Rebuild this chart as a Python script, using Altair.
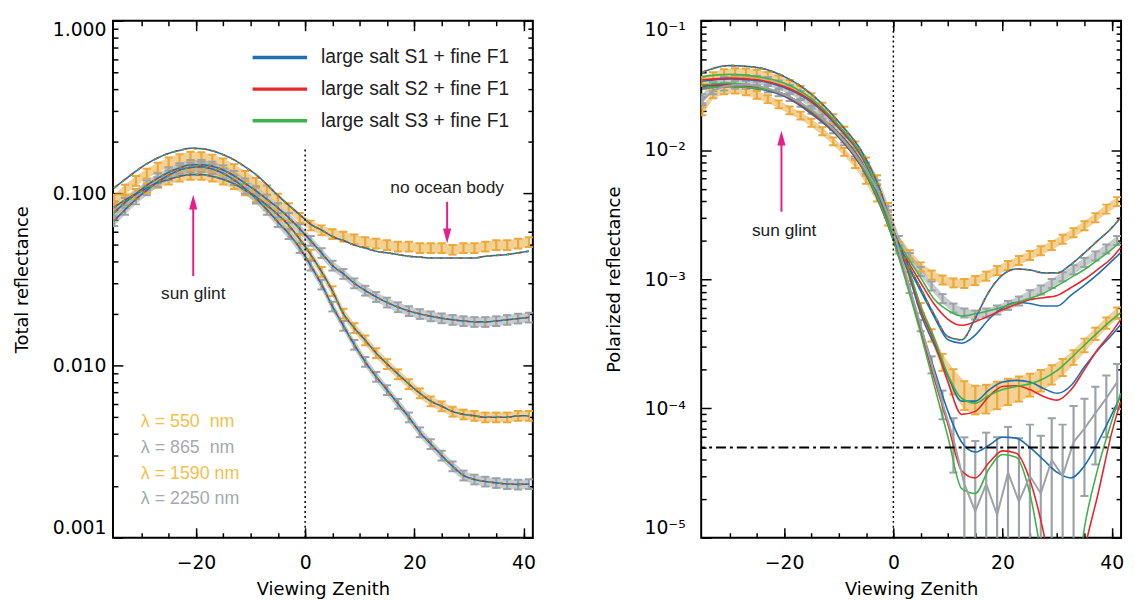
import altair as alt
import pandas as pd

# ---------------- categories / labels ----------------
MODELS = ["large salt S1 + fine F1", "large salt S2 + fine F1", "large salt S3 + fine F1"]
DASH_KEYS = ["d1", "d2", "d3"]
WAVELENGTHS = ["550", "865", "1590", "2250"]
WL_TEXT = ["λ = 550\u00a0 nm", "λ = 865\u00a0 nm", "λ = 1590 nm", "λ = 2250 nm"]

# ---------------- x grids ----------------
XO = [-35, -33, -31, -29, -27, -25, -23, -21, -19, -17, -15, -13, -11, -9, -7, -5, -3, -1,
      1, 3, 5, 7, 9, 11, 13, 15, 17, 19, 21, 23, 25, 27, 29, 31, 33, 35, 37, 39, 41]
XM = [-35, -30, -25, -20, -15, -10, -5, -2.5, 0, 2.5, 5, 7.5, 10, 12.5, 15, 17.5, 20,
      22.5, 25, 27.5, 30, 32.5, 35, 37.5, 40, 41.6]

# ---------------- left panel: total reflectance ----------------
TOT_550 = [0.092, 0.105, 0.118, 0.130, 0.141, 0.151, 0.158, 0.163, 0.162, 0.157, 0.149, 0.138,
           0.126, 0.115, 0.104, 0.093, 0.082, 0.072,
           0.065, 0.061, 0.058, 0.056, 0.054, 0.052, 0.051, 0.050, 0.049, 0.049, 0.048, 0.048,
           0.048, 0.047, 0.048, 0.048, 0.049, 0.050, 0.050, 0.051, 0.052]
TOT_550_MODEL = [0.107, 0.120, 0.134, 0.148, 0.160, 0.170, 0.177, 0.182, 0.181, 0.176, 0.167,
                 0.156, 0.142, 0.128, 0.112, 0.097, 0.085, 0.075,
                 0.066, 0.061, 0.056, 0.053, 0.050, 0.048, 0.046, 0.045, 0.044, 0.043, 0.0425,
                 0.042, 0.042, 0.042, 0.042, 0.042, 0.043, 0.0435, 0.044, 0.045, 0.046]
TOT_865 = [0.077, 0.088, 0.099, 0.111, 0.122, 0.132, 0.140, 0.146, 0.146, 0.143, 0.136, 0.126,
           0.114, 0.103, 0.092, 0.082, 0.072, 0.062,
           0.053, 0.045, 0.038, 0.034, 0.030, 0.0272, 0.0250, 0.0232, 0.0218, 0.0207, 0.0199,
           0.0193, 0.0188, 0.0184, 0.0181, 0.0179, 0.0179, 0.0181, 0.0184, 0.0187, 0.0190]
TOT_1590 = [0.083, 0.091, 0.099, 0.107, 0.115, 0.120, 0.125, 0.128, 0.128, 0.125, 0.120, 0.113,
            0.104, 0.095, 0.085, 0.075, 0.065, 0.054,
            0.044, 0.035, 0.027, 0.020, 0.0165, 0.0140, 0.0118, 0.0102, 0.0089, 0.0078, 0.0069,
            0.0062, 0.0058, 0.0054, 0.0052, 0.0051, 0.0050, 0.0050, 0.0050, 0.0051, 0.0051]
TOT_2250 = [0.069, 0.080, 0.092, 0.104, 0.116, 0.127, 0.136, 0.141, 0.142, 0.138, 0.130, 0.119,
            0.106, 0.093, 0.080, 0.068, 0.058, 0.048,
            0.038, 0.0295, 0.022, 0.0170, 0.0132, 0.0105, 0.0086, 0.0072, 0.0060, 0.0050,
            0.0041, 0.0035, 0.0030, 0.0026, 0.0023, 0.00218, 0.00212, 0.00208, 0.00205,
            0.00204, 0.00205]
TOT_ERR = 0.065

# ---------------- right panel: polarized reflectance ----------------
POL_550 = [0.034, 0.037, 0.039, 0.0398, 0.0395, 0.0387, 0.0372, 0.0350, 0.0322, 0.0290, 0.0255,
           0.0215, 0.0175, 0.0140, 0.0108, 0.0081, 0.0059, 0.0036,
           0.0020, 0.00155, 0.00125, 0.00108, 0.00099, 0.00094, 0.00093, 0.00098, 0.00106,
           0.00117, 0.00128, 0.00140, 0.00153, 0.00167, 0.00183, 0.00205, 0.0023, 0.0026,
           0.0030, 0.0035, 0.0040]
POL_865 = [0.025, 0.031, 0.034, 0.0352, 0.0352, 0.0348, 0.0340, 0.0320, 0.0295, 0.0265, 0.0228,
           0.0190, 0.0155, 0.0124, 0.0097, 0.0074, 0.0054, 0.0034,
           0.0020, 0.00148, 0.00115, 0.00089, 0.00071, 0.00060, 0.00055, 0.00053, 0.00055,
           0.00058, 0.00063, 0.00068, 0.00076, 0.00083, 0.00093, 0.00105, 0.00119, 0.00135,
           0.00152, 0.00172, 0.0020]
POL_1590 = [0.020, 0.027, 0.029, 0.0294, 0.0285, 0.0268, 0.0248, 0.0226, 0.0203, 0.0185, 0.0163,
            0.0140, 0.0117, 0.0097, 0.0078, 0.0059, 0.0043, 0.0028,
            0.0018, 0.00105, 0.00060, 0.00037, 0.00023, 0.000165, 0.000130, 0.000120, 0.000122,
            0.000130, 0.000138, 0.000145, 0.000155, 0.000167, 0.000185, 0.00021, 0.00025,
            0.00031, 0.00038, 0.00046, 0.00055]
POL_2250 = [0.024, 0.029, 0.031, 0.032, 0.032, 0.0315, 0.030, 0.028, 0.0258, 0.0232, 0.0205,
            0.0175, 0.0145, 0.0117, 0.0092, 0.0070, 0.0050, 0.0032,
            0.0017, 0.00085, 0.00044, 0.00022, 0.000110, 0.000058, 0.000026, 0.000016, 0.000026,
            0.000015, 0.000032, 0.000019, 0.000030, 0.000022, 0.000040, 0.000030, 0.000055,
            0.000070, 0.000092, 0.000120, 0.000160]
POL_ERR_550 = 0.08
POL_ERR_865 = 0.08
POL_ERR_1590 = [0.07] * 18 + [0.08, 0.08, 0.09, 0.11, 0.15, 0.22, 0.25, 0.25, 0.25, 0.24, 0.23,
                              0.22, 0.20, 0.19, 0.17, 0.15, 0.13, 0.12, 0.11, 0.10, 0.10]
POL_ERR_2250 = [0.07] * 18 + [0.07, 0.08, 0.10, 0.15, 0.25, 0.45, 1.3, 2.5, 1.5, 3.0, 1.25,
                              2.1, 1.5, 1.8, 1.1, 1.5, 0.9, 0.7, 0.6, 0.5, 0.38]

POL_550_MODEL = [0.040, 0.045, 0.0435, 0.037, 0.027, 0.0165, 0.0085, 0.0050, 0.0024, 0.00135,
                 0.00085, 0.00053, 0.00036, 0.00034, 0.00050, 0.00080, 0.00108, 0.00120, 0.00118,
                 0.00112, 0.00112, 0.00130, 0.00160, 0.0020, 0.0025, 0.0030]
POL_865_S1 = [0.034, 0.0355, 0.0345, 0.0305, 0.0235, 0.0148, 0.0077, 0.0043, 0.0021, 0.0013,
              0.00081, 0.00051, 0.00034, 0.00032, 0.00037, 0.00049, 0.00060, 0.00066, 0.00065,
              0.00062, 0.00062, 0.00075, 0.00090, 0.00110, 0.00138, 0.00160]
POL_865_S2 = [0.035, 0.036, 0.035, 0.031, 0.024, 0.0150, 0.0078, 0.0044, 0.0022, 0.00142,
              0.00094, 0.00064, 0.00049, 0.00044, 0.00047, 0.00052, 0.00058, 0.00064, 0.000695,
              0.00072, 0.00075, 0.00086, 0.00100, 0.00120, 0.00146, 0.00175]
POL_865_S3 = [0.037, 0.0385, 0.037, 0.033, 0.025, 0.0155, 0.0080, 0.0045, 0.0023, 0.0015,
              0.00103, 0.00070, 0.000575, 0.00052, 0.00054, 0.00057, 0.00061, 0.00066, 0.00071,
              0.00078, 0.00089, 0.00103, 0.00119, 0.00142, 0.00170, 0.00195]
POL_1590_S1 = [0.031, 0.032, 0.030, 0.026, 0.019, 0.0125, 0.0064, 0.0038, 0.0021, 0.0012,
               0.00054, 0.00031, 0.000177, 0.000114, 0.000114, 0.000139, 0.000160, 0.000165,
               0.000160, 0.000143, 0.000131, 0.000150, 0.000210, 0.000285, 0.000370, 0.000445]
POL_1590_S2 = [0.0315, 0.0325, 0.0305, 0.0265, 0.0195, 0.0128, 0.0065, 0.0039, 0.00215,
               0.00125, 0.00058, 0.00033, 0.000160, 0.000090, 0.000095, 0.000124, 0.000148,
               0.000150, 0.000140, 0.000124, 0.000116, 0.000139, 0.000200, 0.000290, 0.000390,
               0.000485]
POL_1590_S3 = [0.032, 0.033, 0.031, 0.027, 0.020, 0.0130, 0.0066, 0.0039, 0.0022, 0.0013,
               0.00062, 0.00035, 0.000182, 0.000120, 0.000110, 0.000126, 0.000140, 0.000148,
               0.000155, 0.000170, 0.000197, 0.000245, 0.000310, 0.000390, 0.000485, 0.000550]
POL_2250_S1 = [0.030, 0.031, 0.030, 0.027, 0.020, 0.0135, 0.0070, 0.0040, 0.0020, 0.0010,
               0.00043, 0.00020, 0.000095, 0.000055, 0.000046, 0.000052, 0.000060, 0.000059,
               0.000050, 0.000040, 0.000032, 0.000029, 0.000036, 0.000055, 0.000090, 0.000124]
POL_2250_S2 = [0.030, 0.031, 0.030, 0.027, 0.020, 0.0134, 0.0069, 0.0039, 0.0020, 0.00095,
               0.00040, 0.00017, 0.000075, 0.000033, 0.000029, 0.000038, 0.000047, 0.000045,
               0.000028, 0.000011, 0.000003, 0.000002, 0.000008, 0.000022, 0.000065, 0.000113]
POL_2250_S3 = [0.030, 0.031, 0.030, 0.027, 0.020, 0.0133, 0.0068, 0.0039, 0.0020, 0.00090,
               0.00038, 0.00015, 0.000060, 0.000024, 0.000022, 0.000034, 0.000044, 0.000042,
               0.000022, 0.000006, 0.000002, 0.000002, 0.000012, 0.000035, 0.000080, 0.000131]
NOISE_LEVEL = 5e-5

# ---------------- annotations (data units) ----------------
GLINT_X = -20.5
TOT_ARROW_X = [GLINT_X, 26]
TOT_ARROW_LO = [0.033, 0.0564]
TOT_ARROW_HI = [0.0886, 0.089]
TOT_TEXT_X = [GLINT_X, 26]
TOT_TEXT_Y = [0.026, 0.107]
TOT_TEXT = ["sun glint", "no ocean body"]
TOT_ZERO_TOP = 0.185
WL_TEXT_X = -30.1
WL_TEXT_Y = [0.00472, 0.0033, 0.00234, 0.00168]
POL_ARROW_LO = 0.00333
POL_ARROW_HI = 0.01236
POL_TEXT_X = -20.0
POL_TEXT_Y = 0.00234

# ---------------- axis ticks ----------------
X_MAJOR = [-20, 0, 20, 40]
X_MINOR = [-30, -25, -20, -15, -10, -5, 0, 5, 10, 15, 20, 25, 30, 35, 40]
TOT_MAJOR = [0.001, 0.01, 0.1, 1.0]
TOT_MINOR = [k * 10.0 ** e for e in (-3, -2, -1) for k in range(2, 10)]
POL_MAJOR = [1e-5, 1e-4, 1e-3, 1e-2, 1e-1]
POL_MINOR = [k * 10.0 ** e for e in (-5, -4, -3, -2) for k in range(2, 10)]

# ---------------- styles ----------------
BLUE, RED, GREEN = "#1f6fb5", "#e8262b", "#3cb44a"
ORANGE, GREY = "#eaa93a", "#9da2a7"
ORANGE_T, GREY_T = "#f3bf4c", "#a6a9ad"
MAGENTA = "#ea1c8c"
AX_FONT = "DejaVu Sans"
TX_FONT = "Liberation Sans"
CAP = 0.75
W, H = 424, 522

XS = alt.Scale(domain=[-35.2, 41.7], nice=False, zero=False)


def obs_rows(vals, errs, wl, band=True):
    if not isinstance(errs, list):
        errs = [errs] * len(XO)
    rows = []
    for x, v, e in zip(XO, vals, errs):
        lo = v * (1 - e) if e < 1 else v * 1e-3
        rows.append({"x": x, "v": v, "lo": lo, "hi": v * (1 + e),
                     "xl": x - CAP, "xr": x + CAP, "wl": wl, "band": band})
    return rows


def model_rows(xs, arrays, wl):
    rows = []
    for m, d, arr in zip(MODELS, DASH_KEYS, arrays):
        for x, v in zip(xs, arr):
            rows.append({"x": x, "v": v, "model": m, "dash": d, "wl": wl})
    return rows


tot_obs = pd.DataFrame(obs_rows(TOT_550, TOT_ERR, "550") + obs_rows(TOT_865, TOT_ERR, "865")
                       + obs_rows(TOT_1590, TOT_ERR, "1590") + obs_rows(TOT_2250, TOT_ERR, "2250"))
tot_models = pd.DataFrame(model_rows(XO, [TOT_550_MODEL] * 3, "550")
                          + model_rows(XO, [TOT_865] * 3, "865")
                          + model_rows(XO, [TOT_1590] * 3, "1590")
                          + model_rows(XO, [TOT_2250] * 3, "2250"))
pol_obs = pd.DataFrame(obs_rows(POL_550, POL_ERR_550, "550") + obs_rows(POL_865, POL_ERR_865, "865")
                       + obs_rows(POL_1590, POL_ERR_1590, "1590")
                       + obs_rows(POL_2250, POL_ERR_2250, "2250", band=False))
pol_dash = pd.DataFrame(model_rows(XM, [POL_550_MODEL] * 3, "550"))
pol_solid = pd.DataFrame(model_rows(XM, [POL_865_S1, POL_865_S2, POL_865_S3], "865")
                         + model_rows(XM, [POL_1590_S1, POL_1590_S2, POL_1590_S3], "1590")
                         + model_rows(XM, [POL_2250_S1, POL_2250_S2, POL_2250_S3], "2250"))

WL_SCALE = alt.Scale(domain=WAVELENGTHS, range=[ORANGE, GREY, ORANGE, GREY])
M_SCALE = alt.Scale(domain=MODELS, range=[BLUE, RED, GREEN])
D_SCALE = alt.Scale(domain=DASH_KEYS, range=[[1, 0], [5, 5], [3, 7]])


def panel(obs_df, dash_df, solid_df, ys, ymajor, yminor, ylab, ytitle, legend, extras):
    col = alt.Color("wl:N", scale=WL_SCALE, legend=None)
    ax_xb = alt.Axis(orient="bottom", values=X_MAJOR, tickSize=10, offset=-10, labelPadding=16,
                     labelFlush=False, title="Viewing Zenith", titlePadding=8)
    ax_xb_m = alt.Axis(orient="bottom", values=X_MINOR, tickSize=5, offset=-5, labels=False, title=None)
    ax_xt = alt.Axis(orient="top", values=X_MAJOR, tickSize=10, offset=-10, labels=False, title=None)
    ax_xt_m = alt.Axis(orient="top", values=X_MINOR, tickSize=5, offset=-5, labels=False, title=None)
    ax_yl = alt.Axis(orient="left", values=ymajor, tickSize=10, offset=-10, labelFlush=True,
                     title=ytitle, **ylab)
    ax_yl_m = alt.Axis(orient="left", values=yminor, tickSize=5, offset=-5, labels=False, title=None)
    ax_yr = alt.Axis(orient="right", values=ymajor, tickSize=10, offset=-10, labels=False, title=None)
    ax_yr_m = alt.Axis(orient="right", values=yminor, tickSize=5, offset=-5, labels=False, title=None)

    band = alt.Chart(obs_df[obs_df["band"]]).mark_area(opacity=0.55, clip=True).encode(
        x=alt.X("x:Q", scale=XS, axis=None),
        y=alt.Y("lo:Q", scale=ys, axis=None), y2="hi:Q", color=col, detail="wl:N")
    bars = alt.Chart(obs_df).mark_rule(strokeWidth=2.2, clip=True).encode(
        x=alt.X("x:Q", scale=XS, axis=ax_xb),
        y=alt.Y("lo:Q", scale=ys, axis=ax_yl), y2="hi:Q", color=col)
    caps_lo = alt.Chart(obs_df).mark_rule(strokeWidth=2, clip=True).encode(
        x=alt.X("xl:Q", scale=XS, axis=ax_xb_m), x2="xr:Q",
        y=alt.Y("lo:Q", scale=ys, axis=ax_yl_m), color=col)
    caps_hi = alt.Chart(obs_df).mark_rule(strokeWidth=2, clip=True).encode(
        x=alt.X("xl:Q", scale=XS, axis=ax_xt), x2="xr:Q",
        y=alt.Y("hi:Q", scale=ys, axis=ax_yr), color=col)
    ghost = alt.Chart(obs_df).mark_point(opacity=0).encode(
        x=alt.X("x:Q", scale=XS, axis=ax_xt_m),
        y=alt.Y("v:Q", scale=ys, axis=ax_yr_m))
    layers = [bars, band, caps_lo, caps_hi, ghost]
    if solid_df is not None:
        layers.append(alt.Chart(solid_df).mark_line(strokeWidth=1.6, clip=True, interpolate="monotone").encode(
            x=alt.X("x:Q", scale=XS, axis=None),
            y=alt.Y("v:Q", scale=ys, axis=None),
            stroke=alt.Stroke("model:N", scale=M_SCALE, legend=None),
            detail="wl:N"))
    layers.append(alt.Chart(dash_df).mark_line(strokeWidth=1.6, clip=True, interpolate="monotone").encode(
        x=alt.X("x:Q", scale=XS, axis=None),
        y=alt.Y("v:Q", scale=ys, axis=None),
        stroke=alt.Stroke("model:N", scale=M_SCALE, legend=legend),
        strokeDash=alt.StrokeDash("dash:N", scale=D_SCALE, legend=None),
        detail="wl:N"))
    layers += extras(ys)
    return alt.layer(*layers).resolve_axis(x="independent", y="independent").properties(width=W, height=H)


def head(df, ys, path):
    return alt.Chart(df).mark_point(shape=path, filled=True, size=225, color=MAGENTA,
                                    opacity=1, strokeWidth=0).encode(
        x=alt.X("x:Q", scale=XS, axis=None), y=alt.Y("y:Q", scale=ys, axis=None))


UP = "M0,-1L0.55,1L-0.55,1Z"
DOWN = "M0,1L0.55,-1L-0.55,-1Z"


def tot_extras(ys):
    zero = alt.Chart(pd.DataFrame({"x": [0], "y1": [TOT_MAJOR[0]], "y2": [TOT_ZERO_TOP]})).mark_rule(
        color="black", strokeDash=[2, 3], strokeWidth=1.5).encode(
        x=alt.X("x:Q", scale=XS, axis=None), y=alt.Y("y1:Q", scale=ys, axis=None), y2="y2:Q")
    arrows = alt.Chart(pd.DataFrame({"x": TOT_ARROW_X, "lo": TOT_ARROW_LO, "hi": TOT_ARROW_HI})).mark_rule(
        color=MAGENTA, strokeWidth=2).encode(
        x=alt.X("x:Q", scale=XS, axis=None), y=alt.Y("lo:Q", scale=ys, axis=None), y2="hi:Q")
    h1 = head(pd.DataFrame({"x": [TOT_ARROW_X[0]], "y": [TOT_ARROW_HI[0]]}), ys, UP)
    h2 = head(pd.DataFrame({"x": [TOT_ARROW_X[1]], "y": [TOT_ARROW_LO[1]]}), ys, DOWN)
    notes = alt.Chart(pd.DataFrame({"x": TOT_TEXT_X, "y": TOT_TEXT_Y, "t": TOT_TEXT})).mark_text(
        font=TX_FONT, fontSize=17.5, color="#222222", align="center", baseline="middle").encode(
        x=alt.X("x:Q", scale=XS, axis=None), y=alt.Y("y:Q", scale=ys, axis=None), text="t:N")
    wl = alt.Chart(pd.DataFrame({"x": [WL_TEXT_X] * 4, "y": WL_TEXT_Y, "t": WL_TEXT, "wl": WAVELENGTHS})).mark_text(
        font=TX_FONT, fontSize=18, align="left", baseline="middle").encode(
        x=alt.X("x:Q", scale=XS, axis=None), y=alt.Y("y:Q", scale=ys, axis=None), text="t:N",
        fill=alt.Fill("wl:N", scale=alt.Scale(domain=WAVELENGTHS, range=[ORANGE_T, GREY_T, ORANGE_T, GREY_T]),
                      legend=None))
    return [zero, arrows, h1, h2, notes, wl]


def pol_extras(ys):
    zero = alt.Chart(pd.DataFrame({"x": [0]})).mark_rule(
        color="black", strokeDash=[2, 3], strokeWidth=1.5).encode(x=alt.X("x:Q", scale=XS, axis=None))
    noise = alt.Chart(pd.DataFrame({"y": [NOISE_LEVEL]})).mark_rule(
        color="black", strokeDash=[10, 4, 3, 4], strokeWidth=2).encode(y=alt.Y("y:Q", scale=ys, axis=None))
    grey_line = alt.Chart(pol_obs[pol_obs["wl"] == "2250"]).mark_line(
        color=GREY, strokeWidth=2, clip=True).encode(
        x=alt.X("x:Q", scale=XS, axis=None), y=alt.Y("v:Q", scale=ys, axis=None))
    arrow = alt.Chart(pd.DataFrame({"x": [GLINT_X], "lo": [POL_ARROW_LO], "hi": [POL_ARROW_HI]})).mark_rule(
        color=MAGENTA, strokeWidth=2).encode(
        x=alt.X("x:Q", scale=XS, axis=None), y=alt.Y("lo:Q", scale=ys, axis=None), y2="hi:Q")
    h = head(pd.DataFrame({"x": [GLINT_X], "y": [POL_ARROW_HI]}), ys, UP)
    note = alt.Chart(pd.DataFrame({"x": [POL_TEXT_X], "y": [POL_TEXT_Y], "t": ["sun glint"]})).mark_text(
        font=TX_FONT, fontSize=17.5, color="#222222", align="center", baseline="middle").encode(
        x=alt.X("x:Q", scale=XS, axis=None), y=alt.Y("y:Q", scale=ys, axis=None), text="t:N")
    return [grey_line, zero, noise, arrow, h, note]


legend = alt.Legend(orient="none", legendX=139, legendY=27, title=None, symbolType="stroke",
                    symbolStrokeWidth=3.5, symbolSize=3025, clipHeight=20, rowPadding=12,
                    labelFont=TX_FONT, labelFontSize=19.5, labelColor="#222222", labelOffset=12,
                    labelLimit=400, padding=0)

left = panel(tot_obs, tot_models, None,
             alt.Scale(type="log", domain=[0.001, 1.0], nice=False), TOT_MAJOR, TOT_MINOR,
             dict(format=".3f", labelPadding=7, titlePadding=21), "Total reflectance", legend, tot_extras)

SUP = ("datum.value > 0.05 ? '10⁻¹' : datum.value > 0.005 ? '10⁻²' : "
       "datum.value > 0.0005 ? '10⁻³' : datum.value > 0.00005 ? '10⁻⁴' : '10⁻⁵'")
right = panel(pol_obs, pol_dash, pol_solid,
              alt.Scale(type="log", domain=[1e-5, 0.1], nice=False), POL_MAJOR, POL_MINOR,
              dict(labelExpr=SUP, labelPadding=16, titlePadding=21), "Polarized reflectance", None, pol_extras)

chart = alt.hconcat(left, right, spacing=68).resolve_scale(
    x="independent", y="independent", color="independent", stroke="independent",
    strokeDash="independent", fill="independent").properties(
    padding={"left": 4, "top": 8, "right": 2, "bottom": 0}
).configure_view(stroke="black", strokeWidth=2).configure_axis(
    domain=False, grid=False, tickColor="black", tickWidth=1.5,
    labelFont=AX_FONT, labelFontSize=19, labelColor="black",
    titleFont=AX_FONT, titleFontSize=18, titleFontWeight="normal", titleColor="black")

chart.save("out.html", embed_options={"renderer": "svg", "actions": False})
